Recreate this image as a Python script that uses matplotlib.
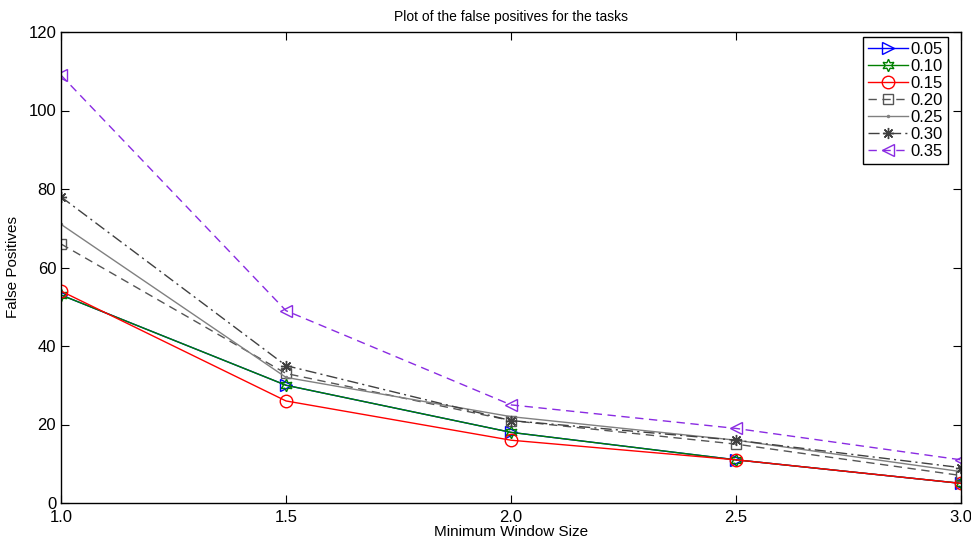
import numpy as np
from matplotlib import pyplot as plt

plt.rcParams['font.family'] = ['Liberation Sans', 'DejaVu Sans']
plt.rcParams['font.size'] = 11

window = [1.0, 1.5, 2.0, 2.5, 3.0]
thresholds = ["0.05", "0.10", "0.15", "0.20", "0.25", "0.30", "0.35"]
fp_005 = [53, 30, 18, 11, 5]
fp_010 = [53, 30, 18, 11, 5]
fp_015 = [54, 26, 16, 11, 5]
fp_020 = [66, 33, 21, 15, 7]
fp_025 = [71, 32, 22, 16, 8]
fp_030 = [78, 35, 21, 16, 9]
fp_035 = [109, 49, 25, 19, 11]

fig = plt.figure(figsize=(971/100, 542/100), dpi=100)
ax = fig.add_axes([61/971, 39/542, 900/971, 471/542])

ax.plot(window, fp_005, color='blue', linestyle='-', marker='>', markersize=8,
        fillstyle='none', linewidth=1, label=thresholds[0])
ax.plot(window, fp_010, color='green', linestyle='-', marker=(6, 1, 0), markersize=9,
        fillstyle='none', markerfacecolor='none', linewidth=1, label=thresholds[1])
ax.plot(window, fp_015, color='red', linestyle='-', marker='o', markersize=9,
        fillstyle='none', linewidth=1, label=thresholds[2])
ax.plot(window, fp_020, color='#555555', linestyle=(0, (6, 4)), marker='s', markersize=7,
        fillstyle='none', linewidth=1, label=thresholds[3])
ax.plot(window, fp_025, color='#808080', linestyle='-', marker='.', markersize=3,
        linewidth=1, label=thresholds[4])
ax.plot(window, fp_030, color='#404040', linestyle=(0, (8, 3, 1.5, 3)), marker=(8, 2, 0),
        markersize=8, linewidth=1, label=thresholds[5])
ax.plot(window, fp_035, color='#8a2be2', linestyle=(0, (6, 4)), marker='<', markersize=8,
        fillstyle='none', linewidth=1, label=thresholds[6])

ax.set_xlim(1.0, 3.0)
ax.set_ylim(0, 120)
ax.set_xticks([1.0, 1.5, 2.0, 2.5, 3.0])
ax.set_xticklabels(["1.0", "1.5", "2.0", "2.5", "3.0"])
ax.set_yticks(np.arange(0, 121, 20))
ax.tick_params(direction='in', top=True, right=True, length=6, labelsize=12)
ax.tick_params(axis='x', pad=5)
for s in ax.spines.values():
    s.set_linewidth(1)

ax.set_title("Plot of the false positives for the tasks", fontsize=10, pad=8)
ax.set_xlabel("Minimum Window Size", fontsize=11, labelpad=0)
ax.set_ylabel("False Positives", fontsize=11, labelpad=6)

leg = ax.legend(loc='upper right', bbox_to_anchor=(0.985, 0.99), fontsize=12,
                fancybox=False, framealpha=1, edgecolor='black', handlelength=2.4,
                handletextpad=0.1, borderpad=0.3, labelspacing=0.12, borderaxespad=0)
leg.get_frame().set_linewidth(1)

fig.savefig('out.png', dpi=100)
